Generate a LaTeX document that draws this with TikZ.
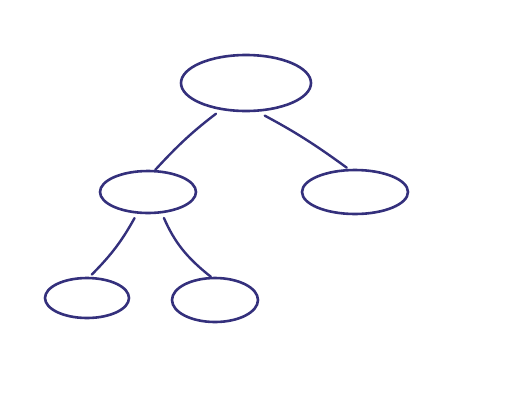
\documentclass[tikz,border=0pt]{standalone}
\usetikzlibrary{shapes.geometric}
\definecolor{penblue}{HTML}{34307C}

\tikzset{
  blob/.style={ellipse, draw=penblue, line width=2.6pt, inner sep=0pt},
  twig/.style={draw=penblue, line width=2.4pt, line cap=round}
}

\begin{document}
\begin{tikzpicture}[x=1pt,y=-1pt]
\useasboundingbox (0,0) rectangle (522,400);
% the five blobs of the tree
\node[blob, minimum width=130pt, minimum height=56pt] (top) at (246,83) {};
\node[blob, minimum width=96pt, minimum height=42pt] (midleft) at (148,192) {};
\node[blob, minimum width=106pt, minimum height=44pt] (midright) at (355,192) {};
\node[blob, minimum width=84pt, minimum height=40pt] (lowleft) at (87,298) {};
\node[blob, minimum width=86pt, minimum height=44pt] (lowright) at (215,300) {};
% branches
\draw[twig, shorten <=6pt] (top.227) to[bend right=5] (midleft.72);
\draw[twig, shorten <=8pt, shorten >=2pt] (top.292) to[bend left=4] (midright.106);
\draw[twig, shorten <=5pt, shorten >=3pt] (midleft.243) to[bend left=8] (lowleft.83);
\draw[twig, shorten <=5pt] (midleft.303) to[bend right=14] (lowright.100);
\end{tikzpicture}
\end{document}
